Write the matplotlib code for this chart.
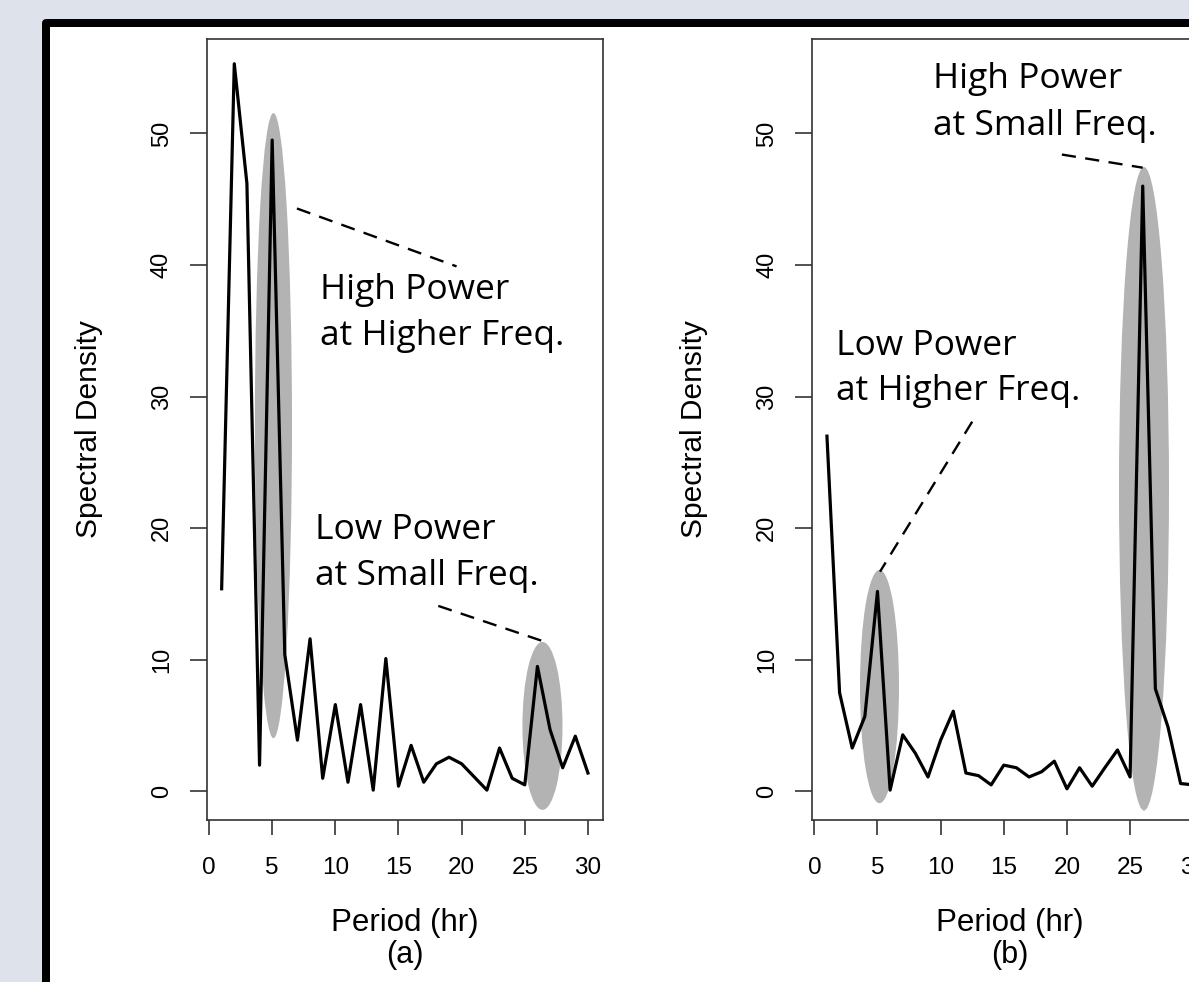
import matplotlib.pyplot as plt
from matplotlib.patches import Ellipse, Rectangle

W, H = 1189, 982

# periodogram values
period = [1, 2, 3, 4, 5, 6, 7, 8, 9, 10, 11, 12, 13, 14, 15,
          16, 17, 18, 19, 20, 21, 22, 23, 24, 25, 26, 27, 28, 29, 30]
dens_a = [15.4, 55.3, 46.2, 2.0, 49.5, 10.4, 3.9, 11.6, 1.0, 6.6,
          0.7, 6.6, 0.1, 10.1, 0.4, 3.5, 0.7, 2.1, 2.6, 2.1,
          1.1, 0.1, 3.3, 1.0, 0.5, 9.5, 4.7, 1.8, 4.2, 1.4]
dens_b = [27.0, 7.5, 3.3, 5.7, 15.2, 0.1, 4.3, 2.9, 1.1, 3.9,
          6.1, 1.4, 1.2, 0.5, 2.0, 1.8, 1.1, 1.5, 2.3, 0.2,
          1.8, 0.4, 1.8, 3.15, 1.1, 46.0, 7.8, 4.9, 0.6, 0.5]
xticks = [0, 5, 10, 15, 20, 25, 30]
yticks = [0, 10, 20, 30, 40, 50]
panel_tags = ["(a)", "(b)"]

AX_FONT = "Liberation Sans"
NOTE_FONT = "Open Sans"
NOTE_SIZE = 25.5

fig = plt.figure(figsize=(W / 100, H / 100), dpi=100, facecolor="#dee2eb")

# white slide area with thick black frame (runs off the right/bottom edge)
frame = Rectangle((45.7 / W, -0.1), 1.2, 1 - 23.3 / H + 0.1,
                  transform=fig.transFigure, facecolor="white",
                  edgecolor="black", linewidth=5.76, joinstyle="round",
                  zorder=-10)
fig.add_artist(frame)

ax_w = 395.6 / W
ax_h = (820 - 39) / H
ax_y0 = (H - 820) / H
ax_a = fig.add_axes([207 / W, ax_y0, ax_w, ax_h])
ax_b = fig.add_axes([812.3 / W, ax_y0, ax_w, ax_h])

for ax, dens, tag in zip([ax_a, ax_b], [dens_a, dens_b], panel_tags):
    ax.plot(period, dens, color="black", lw=2.3, zorder=3)
    ax.set_xlim(-0.16, 31.16)
    ax.set_ylim(-2.17, 57.18)
    ax.set_xticks(xticks)
    ax.set_yticks(yticks)
    ax.set_xticklabels([str(t) for t in xticks], family=AX_FONT, fontsize=17.5)
    ax.set_yticklabels([str(t) for t in yticks], family=AX_FONT, fontsize=17,
                       rotation=90, va="center")
    ax.tick_params(axis="x", length=10.8, width=1.2, pad=16, color="#333333")
    ax.tick_params(axis="y", length=12, width=1.2, pad=12.5, color="#333333")
    for s in ax.spines.values():
        s.set_linewidth(1.2)
        s.set_color("#333333")
    ax.set_facecolor("white")

    # axis titles
    pos = ax.get_position()
    xc = (pos.x0 + pos.x1) / 2
    fig.text(xc, 1 - 931 / H, "Period (hr)", family=AX_FONT, fontsize=22.5,
             ha="center", va="baseline")
    fig.text(xc, 1 - 963.5 / H, tag, family=AX_FONT, fontsize=22,
             ha="center", va="baseline")
    fig.text(pos.x0 - 110 / W, 1 - 429.5 / H, "Spectral Density",
             family=AX_FONT, fontsize=21.5, rotation=90,
             rotation_mode="anchor", ha="center", va="baseline")

grey = "#b3b3b3"
dash = dict(color="black", lw=1.7, dashes=(6, 4), zorder=4, clip_on=False)

# panel (a) highlights
ax_a.add_patch(Ellipse((5.1, 27.8), 2.94, 47.5, color=grey, lw=0, zorder=1))
ax_a.add_patch(Ellipse((26.4, 4.98), 3.17, 12.76, color=grey, lw=0, zorder=1))
ax_a.plot([6.96, 19.6], [44.3, 39.9], **dash)
ax_a.plot([18.15, 26.5], [14.1, 11.4], **dash)
ax_a.text(8.75, 37.42, "High Power", family=NOTE_FONT, fontsize=NOTE_SIZE, va="baseline")
ax_a.text(8.75, 33.93, "at Higher Freq.", family=NOTE_FONT, fontsize=NOTE_SIZE, va="baseline")
ax_a.text(8.39, 19.16, "Low Power", family=NOTE_FONT, fontsize=NOTE_SIZE, va="baseline")
ax_a.text(8.39, 15.69, "at Small Freq.", family=NOTE_FONT, fontsize=NOTE_SIZE, va="baseline")

# panel (b) highlights
ax_b.add_patch(Ellipse((5.16, 7.97), 3.09, 17.73, color=grey, lw=0, zorder=1))
ax_b.add_patch(Ellipse((26.1, 23.0), 3.96, 48.9, color=grey, lw=0, zorder=1))
ax_b.plot([19.6, 26.0], [48.4, 47.4], **dash)
ax_b.plot([12.5, 5.2], [28.1, 16.7], **dash)
ax_b.text(9.42, 53.43, "High Power", family=NOTE_FONT, fontsize=NOTE_SIZE, va="baseline")
ax_b.text(9.42, 49.89, "at Small Freq.", family=NOTE_FONT, fontsize=NOTE_SIZE, va="baseline")
ax_b.text(1.72, 33.17, "Low Power", family=NOTE_FONT, fontsize=NOTE_SIZE, va="baseline")
ax_b.text(1.72, 29.75, "at Higher Freq.", family=NOTE_FONT, fontsize=NOTE_SIZE, va="baseline")

fig.savefig("out.png", dpi=100, facecolor=fig.get_facecolor())
